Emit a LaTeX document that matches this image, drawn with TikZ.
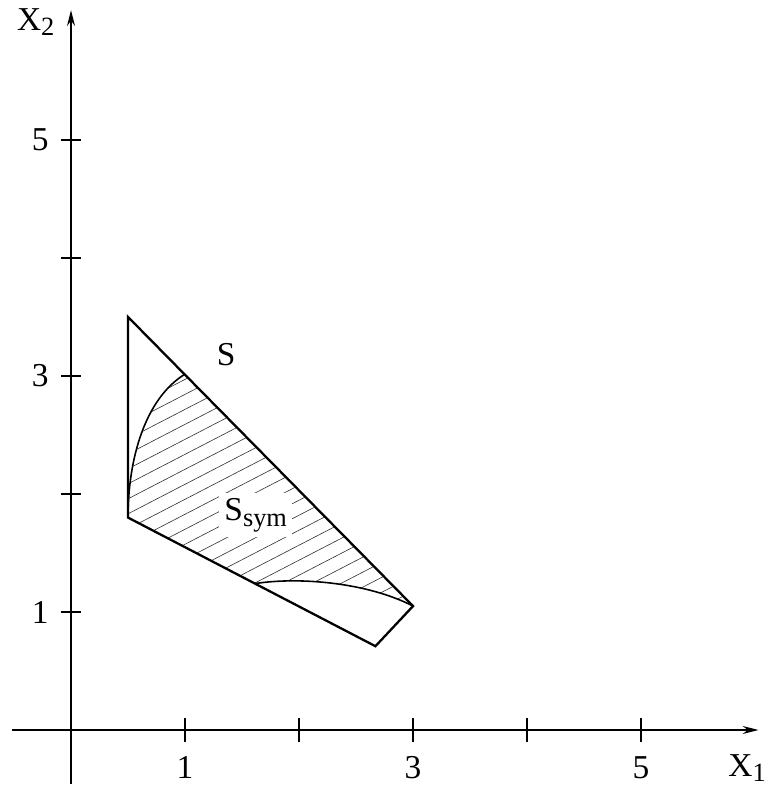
\documentclass[tikz,border=0pt]{standalone}
\usepackage{fontspec}
\setmainfont{Liberation Serif}
\usetikzlibrary{arrows.meta}
\tikzset{
  lbl/.style={font=\fontsize{19}{23}\selectfont, inner sep=1pt},
  hatch/.style={line width=0.35pt, black!80},
}
\newcommand{\sub}[1]{\raisebox{-0.35ex}{\fontsize{15}{18}\selectfont #1}}
\begin{document}
\begin{tikzpicture}[x=2.28cm,y=2.36cm]
  \useasboundingbox (-0.623,-0.483) rectangle (6.096,6.186);
  % axes
  \draw[line width=0.8pt,-{Stealth[length=9pt,width=4.5pt]}] (-0.52,0) -- (6.03,0);
  \draw[line width=0.8pt,-{Stealth[length=9pt,width=4.5pt]}] (0,-0.46) -- (0,6.10);
  \node[lbl] (xone) at (5.93,-0.32) {X\sub{1}};
  \node[lbl] (xtwo) at (-0.31,6.0) {X\sub{2}};
  % ticks and labels
  \foreach \i in {1,...,5} {
    \draw[line width=0.8pt] (\i,-0.1) -- (\i,0.1);
    \draw[line width=0.8pt] (-0.09,\i) -- (0.09,\i);
  }
  \foreach \i in {1,3,5} {
    \node[lbl] (xt\i) at (\i,-0.32) {\i};
    \node[lbl] (yt\i) at (-0.27,\i) {\i};
  }
  % corners of S and ends of the curves
  \coordinate (top) at (0.5,3.5);
  \coordinate (left) at (0.5,1.8);
  \coordinate (bot) at (2.67,0.71);
  \coordinate (tip) at (3,1.05);
  \coordinate (up) at (0.99,3.01);
  \coordinate (low) at (1.61,1.24);
  % hatched part S_sym
  \begin{scope}
    \clip (left) .. controls (0.5,2.3) and (0.65,2.8) .. (up) -- (tip)
      .. controls (2.6,1.25) and (2.0,1.3) .. (low) -- cycle;
    \foreach \c in {-0.45,-0.323,...,2.6}
      \draw[hatch] (0.4,\c+0.2) -- (3.2,\c+1.6);
  \end{scope}
  \draw[line width=0.9pt] (left) .. controls (0.5,2.3) and (0.65,2.8) .. (up);
  \draw[line width=0.9pt] (low) .. controls (2.0,1.3) and (2.6,1.25) .. (tip);
  % the set S
  \draw[line width=1.3pt,line join=miter] (top) -- (left) -- (bot) -- (tip) -- cycle;
  \node[lbl] (S) at (1.36,3.18) {S};
  \node[lbl,fill=white,inner sep=3pt] (Ssym) at (1.62,1.82) {S\sub{sym}};
\end{tikzpicture}
\end{document}
